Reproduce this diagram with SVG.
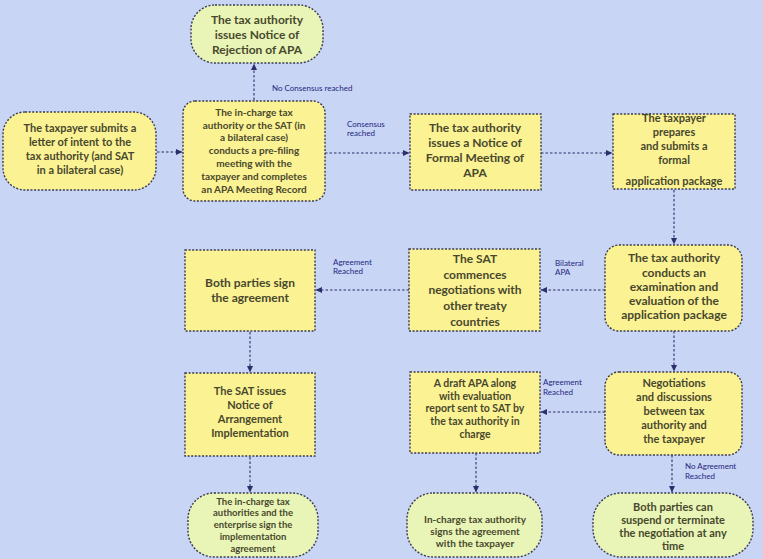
<svg xmlns="http://www.w3.org/2000/svg" width="763" height="559" viewBox="0 0 763 559">
<style>
.box{fill:#fbf293;stroke:#3a3a55;stroke-width:1.4;stroke-dasharray:2 1.6}
.pill{fill:#e9f5b6;stroke:#3a3a55;stroke-width:1.4;stroke-dasharray:2 1.6}
.t{font-family:Lato,"Liberation Sans",sans-serif;font-weight:bold;fill:#48482e;text-anchor:middle}
.s12{font-size:12px}
.s11{font-size:11px}
.s105{font-size:10.5px}
.s10{font-size:10px}
.s9{font-size:9.5px}
.c{fill:none;stroke:#2e2e6a;stroke-width:1.1;stroke-dasharray:2.5 2;marker-end:url(#ah)}
.lb{font-family:Lato,"Liberation Sans",sans-serif;font-size:8px;fill:#262680}
</style>
<defs>
<marker id="ah" viewBox="0 0 8 8" refX="7" refY="4" markerWidth="7" markerHeight="7" orient="auto" markerUnits="userSpaceOnUse">
<path d="M0,0.5 L7.5,4 L0,7.5 z" fill="#2e2e6a"/>
</marker>
</defs>
<rect width="763" height="559" fill="#c8d5f4"/>

<g id="connectors">
<path class="c" d="M157,152 H182"/>
<path class="c" d="M254,100 V64"/>
<text class="lb" x="272" y="91">No Consensus reached</text>
<path class="c" d="M325,153 H409"/>
<text class="lb" x="347" y="127">Consensus</text>
<text class="lb" x="347" y="136">reached</text>
<path class="c" d="M541,153 H612"/>
<path class="c" d="M674,190 V244"/>
<path class="c" d="M605,290 H541"/>
<text class="lb" x="555" y="266">Bilateral</text>
<text class="lb" x="555" y="275">APA</text>
<path class="c" d="M409,290 H316"/>
<text class="lb" x="333" y="265">Agreement</text>
<text class="lb" x="333" y="274">Reached</text>
<path class="c" d="M250,332 V372"/>
<path class="c" d="M250,457 V492"/>
<path class="c" d="M674,331 V371"/>
<path class="c" d="M605,412 H541"/>
<text class="lb" x="543" y="385">Agreement</text>
<text class="lb" x="543" y="395">Reached</text>
<path class="c" d="M476,453 V492"/>
<path class="c" d="M672,455 V492"/>
<text class="lb" x="685" y="469">No Agreement</text>
<text class="lb" x="685" y="479">Reached</text>
</g>

<g id="n-rejection">
<rect class="pill" x="191" y="5" width="132" height="58" rx="24"/>
<text class="t s12" x="257" y="24">The tax authority</text>
<text class="t s12" x="257" y="39">issues Notice of</text>
<text class="t s12" x="257" y="54">Rejection of APA</text>
</g>

<g id="n-intent">
<rect class="box" x="3" y="112" width="153" height="78" rx="22"/>
<text class="t s11" x="80" y="132">The taxpayer submits a</text>
<text class="t s11" x="80" y="146">letter of intent to the</text>
<text class="t s11" x="80" y="160">tax authority (and SAT</text>
<text class="t s11" x="80" y="174">in a bilateral case)</text>
</g>

<g id="n-prefiling">
<rect class="box" x="183" y="101" width="142" height="100" rx="12"/>
<text class="t s10" x="254" y="116">The in-charge tax</text>
<text class="t s10" x="254" y="129">authority or the SAT (in</text>
<text class="t s10" x="254" y="141">a bilateral case)</text>
<text class="t s10" x="254" y="154">conducts a pre-filing</text>
<text class="t s10" x="254" y="167">meeting with the</text>
<text class="t s10" x="254" y="180">taxpayer and completes</text>
<text class="t s10" x="254" y="193">an APA Meeting Record</text>
</g>

<g id="n-formal">
<rect class="box" x="410" y="114" width="131" height="76"/>
<text class="t s12" x="475" y="132">The tax authority</text>
<text class="t s12" x="475" y="147">issues a Notice of</text>
<text class="t s12" x="475" y="162">Formal Meeting of</text>
<text class="t s12" x="475" y="177">APA</text>
</g>

<g id="n-prepares">
<rect class="box" x="613" y="114" width="122" height="75"/>
<text class="t s11" x="674" y="122">The taxpayer</text>
<text class="t s11" x="674" y="136">prepares</text>
<text class="t s11" x="674" y="150">and submits a</text>
<text class="t s11" x="674" y="164">formal</text>
<text class="t s11" x="674" y="185">application package</text>
</g>

<g id="n-exam">
<rect class="box" x="605" y="245" width="137" height="86" rx="14"/>
<text class="t s12" x="674" y="262">The tax authority</text>
<text class="t s12" x="674" y="277">conducts an</text>
<text class="t s12" x="674" y="291">examination and</text>
<text class="t s12" x="674" y="305">evaluation of the</text>
<text class="t s12" x="674" y="319">application package</text>
</g>

<g id="n-sat-neg">
<rect class="box" x="409" y="249" width="131" height="82"/>
<text class="t s12" x="475" y="263">The SAT</text>
<text class="t s12" x="475" y="279">commences</text>
<text class="t s12" x="475" y="294">negotiations with</text>
<text class="t s12" x="475" y="310">other treaty</text>
<text class="t s12" x="475" y="326">countries</text>
</g>

<g id="n-sign">
<rect class="box" x="185" y="250" width="130" height="81"/>
<text class="t s12" x="250" y="287">Both parties sign</text>
<text class="t s12" x="250" y="302">the agreement</text>
</g>

<g id="n-notice-impl">
<rect class="box" x="185" y="373" width="130" height="83"/>
<text class="t s11" x="250" y="395">The SAT issues</text>
<text class="t s11" x="250" y="409">Notice of</text>
<text class="t s11" x="250" y="423">Arrangement</text>
<text class="t s11" x="250" y="437">Implementation</text>
</g>

<g id="n-draft">
<rect class="box" x="410" y="372" width="130" height="81"/>
<text class="t s105" x="475" y="387">A draft APA along</text>
<text class="t s105" x="475" y="400">with evaluation</text>
<text class="t s105" x="475" y="412">report sent to SAT by</text>
<text class="t s105" x="475" y="425">the tax authority in</text>
<text class="t s105" x="475" y="438">charge</text>
</g>

<g id="n-negotiations">
<rect class="box" x="605" y="372" width="137" height="83" rx="14"/>
<text class="t s11" x="674" y="387">Negotiations</text>
<text class="t s11" x="674" y="401">and discussions</text>
<text class="t s11" x="674" y="415">between tax</text>
<text class="t s11" x="674" y="429">authority and</text>
<text class="t s11" x="674" y="443">the taxpayer</text>
</g>

<g id="n-impl-agreement">
<rect class="pill" x="188" y="493" width="130" height="64" rx="26"/>
<text class="t s9" x="253" y="505">The in-charge tax</text>
<text class="t s9" x="253" y="516">authorities and the</text>
<text class="t s9" x="253" y="528">enterprise sign the</text>
<text class="t s9" x="253" y="540">implementation</text>
<text class="t s9" x="253" y="552">agreement</text>
</g>

<g id="n-signs-taxpayer">
<rect class="pill" x="407" y="493" width="135" height="64" rx="26"/>
<text class="t s10" x="475" y="523">In-charge tax authority</text>
<text class="t s10" x="475" y="535">signs the agreement</text>
<text class="t s10" x="475" y="547">with the taxpayer</text>
</g>

<g id="n-suspend">
<rect class="pill" x="593" y="493" width="160" height="64" rx="28"/>
<text class="t s11" x="673" y="511">Both parties can</text>
<text class="t s11" x="673" y="524">suspend or terminate</text>
<text class="t s11" x="673" y="537">the negotiation at any</text>
<text class="t s11" x="673" y="550">time</text>
</g>
</svg>
